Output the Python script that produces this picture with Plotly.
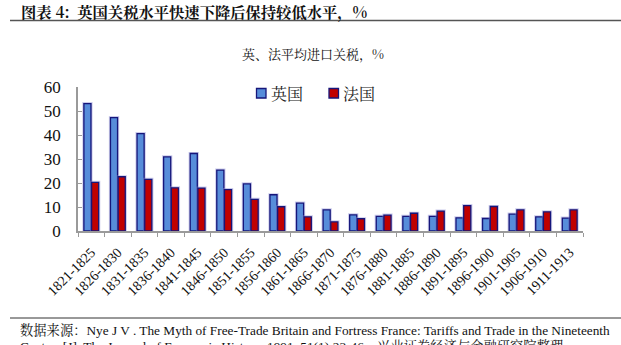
import plotly.graph_objects as go

periods = ["1821-1825", "1826-1830", "1831-1835", "1836-1840", "1841-1845",
           "1846-1850", "1851-1855", "1856-1860", "1861-1865", "1866-1870",
           "1871-1875", "1876-1880", "1881-1885", "1886-1890", "1891-1895",
           "1896-1900", "1901-1905", "1906-1910", "1911-1913"]
uk_tariff = [53.1, 47.2, 40.6, 30.9, 32.3, 25.4, 19.6, 15.1, 11.6, 8.8,
             6.7, 6.1, 6.1, 6.1, 5.5, 5.2, 7.0, 5.9, 5.4]
fr_tariff = [20.3, 22.6, 21.5, 18.0, 17.9, 17.2, 13.2, 10.1, 5.9, 3.8,
             5.1, 6.6, 7.4, 8.3, 10.6, 10.2, 8.8, 8.0, 8.8]
y_ticks = [0, 10, 20, 30, 40, 50, 60]
series_names = ["英国", "法国"]
series_colors = ["#578DDA", "#C00000"]

W, H = 621, 345
L, R, T, B = 78, 583, 87, 231  # plot area in pixels


def px(x):
    return (x - L) / (R - L)


def py(y):
    return (B - y) / (B - T)


SERIF = "Liberation Serif, Noto Serif CJK SC, Noto Sans CJK SC, serif"
CJK = "Noto Serif CJK SC, Noto Sans CJK SC"
OUTLINE = "#16167A"
HALO = "rgba(140,140,210,0.45)"

fig = go.Figure()
for name, vals, color in zip(series_names, [uk_tariff, fr_tariff], series_colors):
    # soft halo behind each bar
    fig.add_trace(go.Bar(
        x=periods, y=vals, name=name, offsetgroup=name, showlegend=False,
        hoverinfo="skip",
        marker=dict(color="rgba(0,0,0,0)", line=dict(color=HALO, width=3.2)),
    ))
    fig.add_trace(go.Bar(
        x=periods, y=vals, name=name, offsetgroup=name, showlegend=False,
        marker=dict(color=color, line=dict(color=OUTLINE, width=1.3)),
    ))

fig.update_layout(
    width=W, height=H,
    margin=dict(l=L, r=W - R, t=T, b=H - B),
    paper_bgcolor="white", plot_bgcolor="white",
    barmode="group", bargap=0.42, bargroupgap=0.08,
    font=dict(family=SERIF, color="#222222"),
    showlegend=False,
    xaxis=dict(
        type="category", tickangle=-45, tickson="boundaries",
        ticks="outside", ticklen=4, tickcolor="#9A9A9A",
        showline=True, linecolor="#9A9A9A", linewidth=1.5,
        ticklabelstandoff=6,
        tickfont=dict(size=14, family=SERIF, color="#111111"),
        showgrid=False,
    ),
    yaxis=dict(
        range=[0, 60], tickvals=y_ticks, showgrid=False, zeroline=False,
        ticks="inside", ticklen=4, tickcolor="#9A9A9A",
        showline=True, linecolor="#9A9A9A", linewidth=1.5,
        ticklabelstandoff=12,
        tickfont=dict(size=17, family=SERIF, color="#111111"),
    ),
)

# Legend drawn as swatches with labels
legend_x = [256.5, 329]
for name, color, lx in zip(series_names, series_colors, legend_x):
    fig.add_shape(type="rect", xref="paper", yref="paper",
                  x0=px(lx), x1=px(lx + 9.5), y0=py(98), y1=py(88.5),
                  fillcolor=color, line=dict(color=OUTLINE, width=1.3))
    fig.add_annotation(
        text=name, xref="paper", yref="paper", x=px(lx + 12), y=py(93),
        xanchor="left", yanchor="middle", showarrow=False,
        font=dict(size=16, family=CJK, color="#222222"),
    )

# Header, chart title, rules and source note
fig.add_annotation(
    text="<b>图表 4:  英国关税水平快速下降后保持较低水平，%</b>",
    xref="paper", yref="paper", x=px(19), y=py(11),
    xanchor="left", yanchor="middle", showarrow=False,
    font=dict(size=15.3, family=CJK, color="#111111"),
)
fig.add_shape(type="line", xref="paper", yref="paper",
              x0=px(10), x1=px(621), y0=py(20.5), y1=py(20.5),
              line=dict(color="#555555", width=1.5))
fig.add_annotation(
    text="英、法平均进口关税，%",
    xref="paper", yref="paper", x=px(313), y=py(54),
    xanchor="center", yanchor="middle", showarrow=False,
    font=dict(size=13, family=CJK, color="#111111"),
)
fig.add_shape(type="line", xref="paper", yref="paper",
              x0=px(10), x1=px(621), y0=py(318), y1=py(318),
              line=dict(color="#333333", width=1))
fig.add_annotation(
    text="数据来源：Nye J V . The Myth of Free-Trade Britain and Fortress France: Tariffs and Trade in the Nineteenth",
    xref="paper", yref="paper", x=px(18), y=py(329.5),
    xanchor="left", yanchor="middle", showarrow=False,
    font=dict(size=13.3, family=SERIF, color="#111111"),
)
fig.add_annotation(
    text="Century[J]. The Journal of Economic History, 1991, 51(1):23-46，兴业证券经济与金融研究院整理",
    xref="paper", yref="paper", x=px(18), y=py(346.5),
    xanchor="left", yanchor="middle", showarrow=False,
    font=dict(size=13.3, family=SERIF, color="#111111"),
)

fig.write_html("out.html")
